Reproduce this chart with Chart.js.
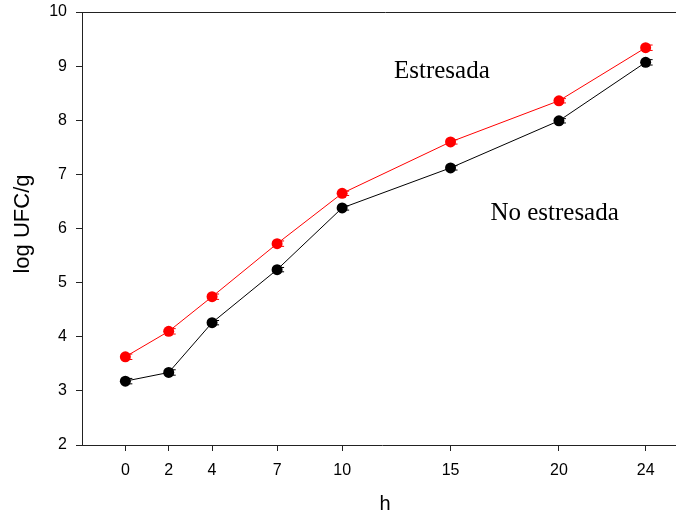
<!DOCTYPE html>
<html>
<head>
<meta charset="utf-8">
<script src="https://cdn.jsdelivr.net/npm/chart.js@4"></script>
<style>
  html, body { margin: 0; padding: 0; background: #fff; overflow: hidden; }
  #wrap { width: 676px; height: 517px; overflow: hidden; }
</style>
</head>
<body>
<div id="wrap"><canvas id="growthChart" width="688" height="517"></canvas></div>
<script>
// sampling times (h)
const hours = [0, 2, 4, 7, 10, 15, 20, 24];
// log UFC/g
const stressed = [3.63, 4.10, 4.74, 5.72, 6.65, 7.60, 8.36, 9.34];
const stressedErr = [0.05, 0.05, 0.05, 0.05, 0.04, 0.04, 0.04, 0.05];
const unstressed = [3.18, 3.34, 4.26, 5.24, 6.38, 7.12, 7.99, 9.07];
const unstressedErr = [0.05, 0.05, 0.04, 0.04, 0.04, 0.04, 0.04, 0.05];
const yTicks = [2, 3, 4, 5, 6, 7, 8, 9, 10];

const sans = "'Liberation Sans', Arial, sans-serif";
const serif = "'Liberation Serif', 'Times New Roman', serif";

// vertical error bars with small caps
const errorBars = {
    id: 'errorBars',
    afterDatasetsDraw(chart) {
        const ctx = chart.ctx;
        const x = chart.scales.x, y = chart.scales.y;
        chart.data.datasets.forEach(ds => {
            ctx.save();
            ctx.strokeStyle = ds.borderColor;
            ctx.lineWidth = 1;
            ds.data.forEach((p, i) => {
                const px = x.getPixelForValue(p.x);
                const top = y.getPixelForValue(p.y + ds.errors[i]);
                const bot = y.getPixelForValue(p.y - ds.errors[i]);
                ctx.beginPath();
                ctx.moveTo(px, top); ctx.lineTo(px, bot);
                ctx.moveTo(px - 2, top); ctx.lineTo(px + 7, top);
                ctx.moveTo(px - 2, bot); ctx.lineTo(px + 7, bot);
                ctx.stroke();
            });
            ctx.restore();
        });
    }
};

// frame top line, axis titles and series labels
const decorations = {
    id: 'decorations',
    afterDraw(chart) {
        const ctx = chart.ctx;
        const area = chart.chartArea;
        const x = chart.scales.x, y = chart.scales.y;
        ctx.save();
        ctx.strokeStyle = '#222';
        ctx.lineWidth = 1;
        ctx.beginPath();
        ctx.moveTo(area.left, area.top + 0.5);
        ctx.lineTo(area.right + 10, area.top + 0.5);
        ctx.stroke();

        ctx.fillStyle = '#000';
        ctx.font = '22px ' + sans;
        ctx.textAlign = 'center';
        ctx.textBaseline = 'middle';
        ctx.translate(23, 224);
        ctx.rotate(-Math.PI / 2);
        ctx.fillText('log UFC/g', 0, 0);
        ctx.restore();

        ctx.save();
        ctx.fillStyle = '#000';
        ctx.font = '20px ' + sans;
        ctx.textAlign = 'center';
        ctx.textBaseline = 'middle';
        ctx.fillText('h', 385, 504);

        ctx.font = '25px ' + serif;
        ctx.textBaseline = 'alphabetic';
        ctx.fillText('Estresada', x.getPixelForValue(14.6), y.getPixelForValue(8.78));
        ctx.fillText('No estresada', x.getPixelForValue(19.8), y.getPixelForValue(6.16));
        ctx.restore();
    }
};

function series(values) {
    return hours.map((h, i) => ({ x: h, y: values[i] }));
}

new Chart(document.getElementById('growthChart'), {
    type: 'line',
    data: {
        datasets: [{
            label: 'Estresada',
            data: series(stressed),
            errors: stressedErr,
            borderColor: '#ff0000',
            backgroundColor: '#ff0000',
            borderWidth: 1,
            pointRadius: 5.5,
            pointBorderWidth: 0
        }, {
            label: 'No estresada',
            data: series(unstressed),
            errors: unstressedErr,
            borderColor: '#000000',
            backgroundColor: '#000000',
            borderWidth: 1,
            pointRadius: 5.5,
            pointBorderWidth: 0
        }]
    },
    options: {
        responsive: false,
        animation: false,
        layout: { padding: { top: 12, left: 0, right: 0, bottom: 0 } },
        plugins: { legend: { display: false }, tooltip: { enabled: false } },
        scales: {
            x: {
                type: 'linear',
                min: -2,
                max: 25.7,
                afterBuildTicks: s => { s.ticks = hours.map(v => ({ value: v })); },
                afterFit: s => { s.height = 72; s.paddingLeft = 0; s.paddingRight = 0; },
                grid: { drawOnChartArea: false, tickLength: 6, color: '#222' },
                border: { display: true, color: '#222', width: 1 },
                ticks: { color: '#000', font: { family: sans, size: 16 }, padding: 10, maxRotation: 0, autoSkip: false }
            },
            y: {
                min: 2,
                max: 10,
                afterBuildTicks: s => { s.ticks = yTicks.map(v => ({ value: v })); },
                afterFit: s => { s.width = 82; s.paddingTop = 0; s.paddingBottom = 0; },
                grid: { drawOnChartArea: false, tickLength: 6, color: '#222' },
                border: { display: true, color: '#222', width: 1 },
                ticks: { color: '#000', font: { family: sans, size: 16 }, padding: 9 }
            }
        }
    },
    plugins: [errorBars, decorations]
});
</script>
</body>
</html>
